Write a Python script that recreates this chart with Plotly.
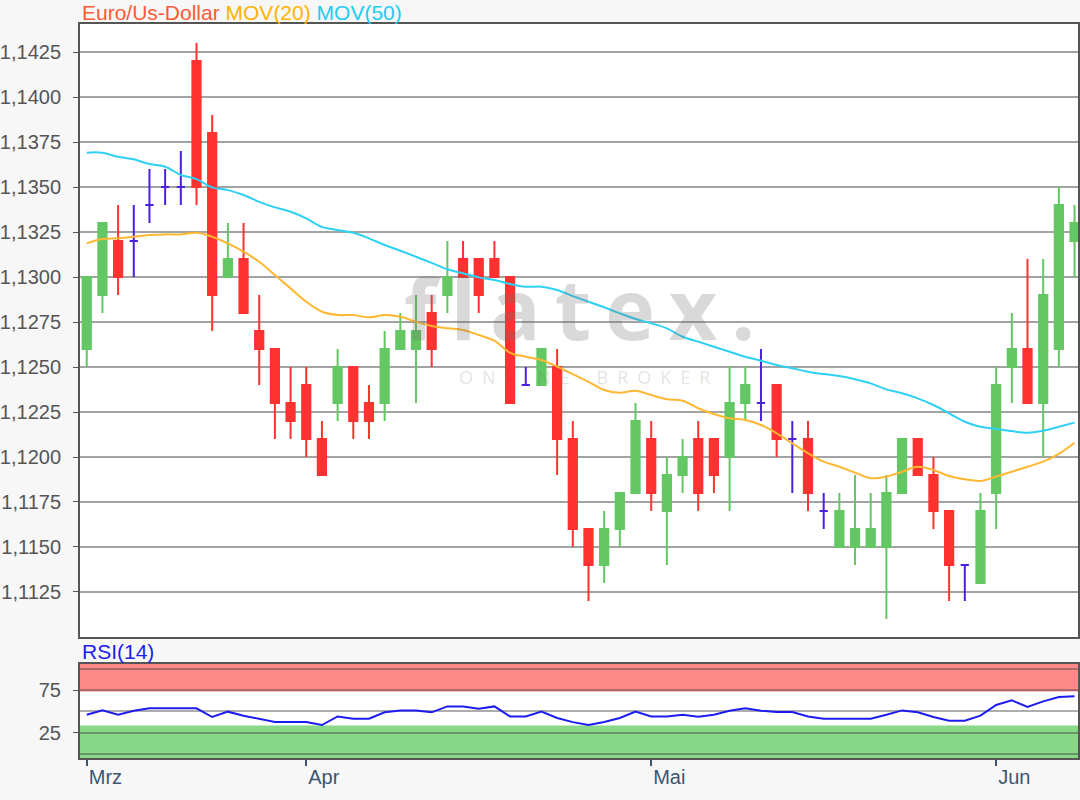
import pandas as pd
import plotly.graph_objects as go
from plotly.subplots import make_subplots

# trading days shown (Mar 12 - Jun 10 2019, no quote on May 1st)
dates = [d.strftime("%Y-%m-%d") for d in
         pd.bdate_range("2019-03-12", "2019-06-10", freq="C", holidays=["2019-05-01"])]

open_ = [1.1260, 1.1290, 1.1320, 1.1320, 1.1340, 1.1350, 1.1350, 1.1420, 1.1380, 1.1300,
         1.1310, 1.1270, 1.1260, 1.1230, 1.1240, 1.1210, 1.1230, 1.1250, 1.1230, 1.1230,
         1.1260, 1.1260, 1.1280, 1.1290, 1.1310, 1.1310, 1.1310, 1.1300, 1.1240, 1.1240,
         1.1250, 1.1210, 1.1160, 1.1140, 1.1160, 1.1180, 1.1210, 1.1170, 1.1190, 1.1210,
         1.1210, 1.1200, 1.1230, 1.1230, 1.1240, 1.1210, 1.1210, 1.1170, 1.1150, 1.1150,
         1.1150, 1.1150, 1.1180, 1.1210, 1.1190, 1.1170, 1.1140, 1.1130, 1.1180, 1.1250,
         1.1260, 1.1230, 1.1260, 1.1320]
high = [1.1300, 1.1330, 1.1340, 1.1340, 1.1360, 1.1360, 1.1370, 1.1430, 1.1390, 1.1330,
        1.1330, 1.1290, 1.1260, 1.1250, 1.1250, 1.1220, 1.1260, 1.1250, 1.1240, 1.1270,
        1.1280, 1.1290, 1.1290, 1.1320, 1.1320, 1.1310, 1.1320, 1.1300, 1.1250, 1.1260,
        1.1260, 1.1220, 1.1160, 1.1170, 1.1180, 1.1230, 1.1220, 1.1200, 1.1210, 1.1220,
        1.1210, 1.1250, 1.1250, 1.1260, 1.1240, 1.1220, 1.1220, 1.1180, 1.1180, 1.1190,
        1.1180, 1.1190, 1.1210, 1.1210, 1.1200, 1.1170, 1.1140, 1.1180, 1.1250, 1.1280,
        1.1310, 1.1310, 1.1350, 1.1340]
low = [1.1250, 1.1280, 1.1290, 1.1300, 1.1330, 1.1340, 1.1340, 1.1340, 1.1270, 1.1300,
       1.1280, 1.1240, 1.1210, 1.1210, 1.1200, 1.1190, 1.1220, 1.1210, 1.1210, 1.1220,
       1.1260, 1.1230, 1.1250, 1.1280, 1.1300, 1.1280, 1.1300, 1.1230, 1.1240, 1.1240,
       1.1190, 1.1150, 1.1120, 1.1130, 1.1150, 1.1180, 1.1170, 1.1140, 1.1180, 1.1170,
       1.1180, 1.1170, 1.1220, 1.1220, 1.1200, 1.1180, 1.1170, 1.1160, 1.1150, 1.1140,
       1.1150, 1.1110, 1.1180, 1.1190, 1.1160, 1.1120, 1.1120, 1.1130, 1.1160, 1.1230,
       1.1230, 1.1200, 1.1250, 1.1300]
close = [1.1300, 1.1330, 1.1300, 1.1320, 1.1340, 1.1350, 1.1350, 1.1350, 1.1290, 1.1310,
         1.1280, 1.1260, 1.1230, 1.1220, 1.1210, 1.1190, 1.1250, 1.1220, 1.1220, 1.1260,
         1.1270, 1.1270, 1.1260, 1.1300, 1.1300, 1.1290, 1.1300, 1.1230, 1.1240, 1.1260,
         1.1210, 1.1160, 1.1140, 1.1160, 1.1180, 1.1220, 1.1180, 1.1190, 1.1200, 1.1180,
         1.1190, 1.1230, 1.1240, 1.1230, 1.1210, 1.1210, 1.1180, 1.1170, 1.1170, 1.1160,
         1.1160, 1.1180, 1.1210, 1.1190, 1.1170, 1.1140, 1.1140, 1.1170, 1.1240, 1.1260,
         1.1230, 1.1290, 1.1340, 1.1330]

mov20 = [1.13187, 1.13211, 1.13215, 1.13224, 1.13233, 1.13237, 1.13237, 1.13246, 1.13224, 1.13187,
         1.13141, 1.13085, 1.13011, 1.12937, 1.12863, 1.12807, 1.12789, 1.12789, 1.12776, 1.12789,
         1.12779, 1.12752, 1.12728, 1.12715, 1.12706, 1.12678, 1.12646, 1.12579, 1.12557, 1.12539,
         1.12502, 1.12461, 1.12418, 1.12372, 1.12357, 1.12368, 1.12344, 1.12321, 1.12313, 1.12271,
         1.12239, 1.12215, 1.12206, 1.12178, 1.12132, 1.12076, 1.12021, 1.11974, 1.11946, 1.11913,
         1.11882, 1.11891, 1.11918, 1.11946, 1.11928, 1.11894, 1.11876, 1.11867, 1.11891, 1.11918,
         1.11946, 1.11974, 1.12017, 1.12079]
mov50 = [1.13691, 1.13691, 1.13668, 1.13654, 1.13628, 1.13613, 1.13567, 1.13544, 1.13498, 1.13483,
         1.13456, 1.13418, 1.13387, 1.13363, 1.13326, 1.13279, 1.13261, 1.13246, 1.13215, 1.13178,
         1.13146, 1.13113, 1.13079, 1.13043, 1.13021, 1.12998, 1.12983, 1.12961, 1.12946, 1.12946,
         1.12928, 1.12894, 1.12863, 1.12832, 1.12798, 1.12767, 1.12743, 1.12715, 1.12668, 1.12641,
         1.12613, 1.12585, 1.12557, 1.12535, 1.12511, 1.12493, 1.12474, 1.12461, 1.12450, 1.12432,
         1.12409, 1.12376, 1.12354, 1.12326, 1.12289, 1.12243, 1.12196, 1.12168, 1.12156, 1.12144,
         1.12135, 1.12146, 1.12168, 1.12191]
rsi14 = [46.2, 51.3, 46.2, 50.9, 53.7, 53.7, 53.7, 53.7, 43.5, 49.8,
         45.1, 41.5, 37.6, 37.6, 37.6, 34.1, 44.2, 41.5, 41.5, 49.0,
         51.3, 51.3, 49.0, 56.0, 56.0, 53.3, 56.0, 44.2, 44.2, 49.8,
         42.4, 37.5, 34.1, 37.6, 42.4, 49.8, 44.2, 44.2, 46.2, 43.9,
         46.2, 50.9, 53.7, 50.9, 49.4, 49.4, 44.2, 41.5, 41.5, 41.5,
         41.5, 46.2, 51.3, 49.0, 43.5, 39.2, 39.2, 45.1, 57.6, 63.1,
         55.3, 61.9, 67.1, 67.8]

month_ticks = ["2019-03-12", "2019-04-01", "2019-05-02", "2019-06-03"]
month_labels = ["Mrz", "Apr", "Mai", "Jun"]
price_ticks = [1.1125, 1.1150, 1.1175, 1.1200, 1.1225, 1.1250, 1.1275,
               1.1300, 1.1325, 1.1350, 1.1375, 1.1400, 1.1425]

GREEN = "#63c763"
RED = "#ff3131"
BLUE = "#4b1ee0"
FONT = "Liberation Sans, Arial, sans-serif"

# doji days (open == close) are drawn as blue crosses
doji = [i for i in range(len(dates)) if open_[i] == close[i]]
body = [i for i in range(len(dates)) if open_[i] != close[i]]

fig = make_subplots(rows=2, cols=1, shared_xaxes=True)

fig.add_trace(go.Scatter(x=dates, y=mov50, mode="lines", line=dict(color="#2fd0f5", width=2, shape="spline"),
                         hoverinfo="skip", showlegend=False), row=1, col=1)
fig.add_trace(go.Scatter(x=dates, y=mov20, mode="lines", line=dict(color="#ffb732", width=2, shape="spline"),
                         hoverinfo="skip", showlegend=False), row=1, col=1)

fig.add_trace(go.Candlestick(
    x=[dates[i] for i in body],
    open=[open_[i] for i in body], high=[high[i] for i in body],
    low=[low[i] for i in body], close=[close[i] for i in body],
    increasing=dict(line=dict(color=GREEN, width=2), fillcolor=GREEN),
    decreasing=dict(line=dict(color=RED, width=2), fillcolor=RED),
    showlegend=False, hoverinfo="skip"), row=1, col=1)
fig.add_trace(go.Candlestick(
    x=[dates[i] for i in doji],
    open=[open_[i] for i in doji], high=[high[i] for i in doji],
    low=[low[i] for i in doji], close=[close[i] for i in doji],
    increasing=dict(line=dict(color=BLUE, width=2), fillcolor=BLUE),
    decreasing=dict(line=dict(color=BLUE, width=2), fillcolor=BLUE),
    showlegend=False, hoverinfo="skip"), row=1, col=1)

fig.add_trace(go.Scatter(x=dates, y=rsi14, mode="lines", line=dict(color="#1c1cf2", width=2),
                         hoverinfo="skip", showlegend=False), row=2, col=1)

# RSI zones
fig.add_shape(type="rect", xref="x2 domain", yref="y2", x0=0, x1=1, y0=73.5, y1=105.9,
              fillcolor="#ff8888", line_width=0, layer="below")
fig.add_shape(type="rect", xref="x2 domain", yref="y2", x0=0, x1=1, y0=-4.7, y1=33.5,
              fillcolor="#88d888", line_width=0, layer="below")

frame = dict(showline=True, mirror=True, linecolor="#555555", linewidth=2, automargin=False)

fig.update_xaxes(type="category", categoryorder="array", categoryarray=dates,
                 range=[-0.43, 63.22], showgrid=False, zeroline=False, rangeslider_visible=False, **frame)
fig.update_xaxes(showticklabels=False, ticks="", row=1, col=1)
fig.update_xaxes(tickvals=month_ticks, ticktext=month_labels, ticks="outside", ticklen=6,
                 tickwidth=2, tickcolor="#3d5570", ticklabelposition="outside right",
                 tickfont=dict(family=FONT, size=20, color="#3d5570"), row=2, col=1)

fig.update_yaxes(domain=[0.1649, 1.0], range=[1.1100, 1.14406], tickvals=price_ticks,
                 tickformat=".4f", ticks="outside", ticklen=5, tickcolor="#555555",
                 ticklabelstandoff=8,
                 tickfont=dict(family=FONT, size=20, color="#555555"),
                 showgrid=True, gridcolor="#a3a3a3", gridwidth=2, zeroline=False,
                 row=1, col=1, **frame)
fig.update_yaxes(domain=[0.0, 0.1281], range=[-4.7, 105.9], tick0=25, dtick=50,
                 ticks="outside", ticklen=5, tickcolor="#555555", ticklabelstandoff=8,
                 tickfont=dict(family=FONT, size=20, color="#555555"),
                 showgrid=True, gridcolor="rgba(60,60,60,0.42)", gridwidth=2, zeroline=False,
                 minor=dict(dtick=25, tick0=0, showgrid=True, gridcolor="rgba(60,60,60,0.42)",
                            gridwidth=2, ticks=""),
                 row=2, col=1, **frame)

fig.add_annotation(xref="paper", yref="paper", x=0, y=1, xanchor="left", yanchor="bottom",
                   xshift=0, yshift=-2, showarrow=False,
                   text="<span style='color:#ff5a36'>Euro/Us-Dollar</span> "
                        "<span style='color:#ffb300'>MOV(20)</span> "
                        "<span style='color:#22ccf2'>MOV(50)</span>",
                   font=dict(family=FONT, size=21))
fig.add_annotation(xref="paper", yref="paper", x=0, y=0.1281, xanchor="left", yanchor="bottom",
                   yshift=-1, showarrow=False, text="RSI(14)",
                   font=dict(family=FONT, size=21, color="#1c1cf2"))

# flatex watermark
fig.add_annotation(xref="paper", yref="paper", x=0.500, y=0.614, showarrow=False,
                   text="<b>f\u2009l\u2009a\u2009t\u2009e\u2009x\u2009.</b>",
                   font=dict(family="Open Sans, sans-serif", size=84, color="rgba(110,110,110,0.26)"))
fig.add_annotation(xref="paper", yref="paper", x=0.506, y=0.5196, showarrow=False,
                   text="O\u2002N\u2002L\u2002I\u2002N\u2002E\u2003\u2002B\u2002R\u2002O\u2002K\u2002E\u2002R",
                   font=dict(family="Open Sans, sans-serif", size=18, color="rgba(110,110,110,0.2)"))

fig.update_layout(
    width=1080, height=800,
    margin=dict(l=80, r=2, t=24, b=42),
    paper_bgcolor="#f7f7f7", plot_bgcolor="#ffffff",
    separators=",.",
    boxgap=0.25,
    showlegend=False,
    hovermode=False,
)

# page without body margin / scrollbars so the figure sits at the window origin
fig.write_html("out.html", config={"displayModeBar": False},
               post_script="document.body.style.margin='0';document.body.style.overflow='hidden';")
